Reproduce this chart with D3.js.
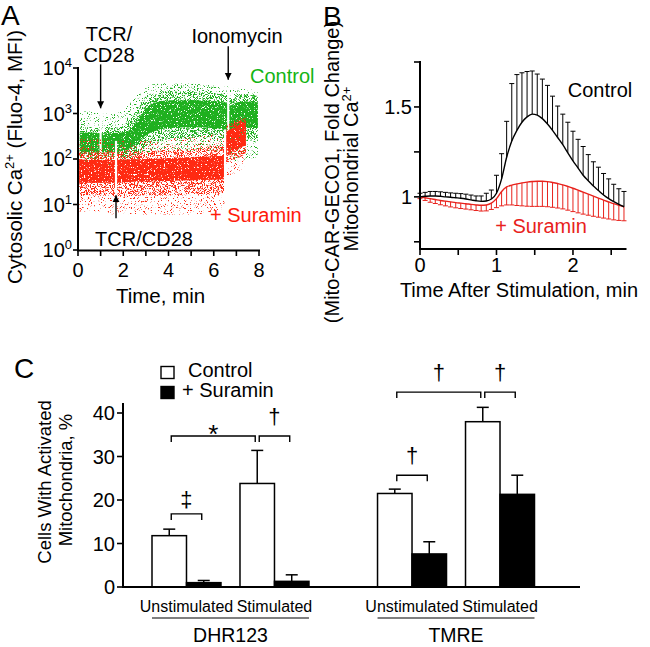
<!DOCTYPE html>
<html><head><meta charset="utf-8">
<script src="https://cdn.jsdelivr.net/npm/d3@7/dist/d3.min.js"></script>
<style>
body{margin:0;background:#fff}
svg{display:block}
</style></head><body>
<svg id="fig" width="650" height="647"></svg>
<script>
// ================= DATA =================
// ---- Panel A : cytosolic Ca2+ kinetic dot plot (envelopes of the dot clouds, MFI) ----
const aTimeTicks = [0,1,2,3,4,5,6,7,8];
const aTimeLabels = [0,2,4,6,8];
const aDecades = [1,10,100,1000,10000];
const aDecadeExp = ["0","1","2","3","4"];

const ctrlTime    = [0.08,0.5,1.0,1.5,2.0,2.3,2.6,3.0,3.5,4.0,5.0,6.0,6.62,6.68,7.0,7.5,7.95];
const ctrlOuterLo = [70,70,70,75,80,90,100,120,140,150,150,150,140,90,90,100,110];
const ctrlMidLo   = [100,100,100,105,110,120,140,190,240,270,290,290,270,200,240,270,280];
const ctrlCoreLo  = [140,140,140,145,150,170,220,330,430,480,500,480,430,400,450,480,480];
const ctrlCoreHi  = [380,380,370,370,390,440,680,1250,1800,1950,1950,1850,1650,1500,1750,1850,1750];
const ctrlMidHi   = [500,500,480,480,550,750,1200,2100,2900,3100,3000,2800,2500,2200,2500,2600,2450];
const ctrlOuterHi = [1100,1100,1000,1000,1200,1700,2700,3800,4500,4600,4500,4100,3900,3400,3500,3400,3200];
const ctrlGaps    = [1.0, 6.64];

const surTime    = [0.05,0.5,1.0,1.6,2.0,3.0,4.0,5.0,6.0,6.45,6.55,7.0,7.42];
const surOuterLo = [7,7,7,6,6,6,6,6,7,8,40,50,70];
const surMidLo   = [16,16,16,15,15,16,16,17,17,18,80,100,130];
const surCoreLo  = [30,30,30,30,31,32,33,34,35,36,120,160,200];
const surCoreHi  = [100,95,95,95,98,100,104,110,115,120,380,520,700];
const surMidHi   = [150,140,140,140,150,150,160,170,190,200,450,650,800];
const surOuterHi = [300,280,270,250,250,250,280,300,350,400,500,750,900];
const surGaps    = [1.68, 6.5];

// ---- Panel B : mitochondrial Ca2+ (fold change), mean +/- SEM ----
const bTime = [0,0.067,0.133,0.2,0.267,0.333,0.4,0.467,0.533,0.6,0.667,0.733,0.8,0.867,0.933,1.0,1.067,1.133,1.2,1.267,1.333,1.4,1.467,1.533,1.6,1.667,1.733,1.8,1.867,1.933,2.0,2.067,2.133,2.2,2.267,2.333,2.4,2.467,2.533,2.6,2.667];
const bCtrlMean = [1.000,1.003,1.005,1.005,1.003,1.000,0.998,0.995,0.992,0.988,0.983,0.978,0.975,0.977,0.988,1.020,1.100,1.220,1.310,1.370,1.415,1.445,1.460,1.455,1.435,1.405,1.370,1.330,1.290,1.245,1.200,1.160,1.120,1.090,1.060,1.035,1.010,0.990,0.973,0.958,0.945];
const bCtrlSem  = [0.020,0.022,0.025,0.025,0.025,0.025,0.024,0.025,0.026,0.027,0.027,0.027,0.030,0.043,0.050,0.100,0.140,0.200,0.320,0.310,0.275,0.252,0.240,0.228,0.220,0.215,0.190,0.175,0.170,0.170,0.165,0.160,0.160,0.145,0.135,0.130,0.120,0.110,0.097,0.087,0.085];
const bSurMean  = [1.000,0.995,0.990,0.985,0.980,0.976,0.972,0.968,0.965,0.962,0.958,0.955,0.953,0.955,0.965,0.990,1.030,1.055,1.065,1.072,1.078,1.082,1.085,1.087,1.087,1.085,1.080,1.074,1.067,1.058,1.048,1.037,1.026,1.015,1.004,0.993,0.982,0.972,0.962,0.953,0.945];
const bSurSem   = [0.010,0.015,0.020,0.022,0.024,0.026,0.028,0.029,0.030,0.030,0.030,0.031,0.032,0.033,0.035,0.050,0.080,0.100,0.110,0.120,0.128,0.134,0.138,0.140,0.140,0.140,0.138,0.136,0.134,0.132,0.130,0.126,0.122,0.117,0.112,0.106,0.100,0.095,0.090,0.084,0.078];
const bXTicks = [0,0.5,1,1.5,2,2.5];
const bXLabels = [0,1,2];
const bYTicks = [0.75,1,1.25,1.5,1.75];
const bYLabels = [1,1.5];

// ---- Panel C : cells with activated mitochondria, % ----
const assays = ["DHR123","TMRE"];
const conditions = ["Unstimulated","Stimulated"];
const treatments = ["Control","+ Suramin"];
const cControlMean = {DHR123:[11.8,23.8], TMRE:[21.5,38.0]};
const cControlSem  = {DHR123:[1.5,7.6],  TMRE:[1.0,3.3]};
const cSuraminMean = {DHR123:[1.0,1.3],  TMRE:[7.6,21.3]};
const cSuraminSem  = {DHR123:[0.5,1.5],  TMRE:[2.8,4.4]};
const cYTicks = [0,10,20,30,40];
const cSig = [
  {assay:"DHR123", a:["Unstimulated","Control"], b:["Unstimulated","+ Suramin"], y:16.8, label:"‡"},
  {assay:"DHR123", a:["Unstimulated","Control"], b:["Stimulated","Control"],    y:34.7, label:"*"},
  {assay:"DHR123", a:["Stimulated","Control"],   b:["Stimulated","+ Suramin"],   y:34.7, label:"†"},
  {assay:"TMRE",   a:["Unstimulated","Control"], b:["Unstimulated","+ Suramin"], y:25.7, label:"†"},
  {assay:"TMRE",   a:["Unstimulated","Control"], b:["Stimulated","Control"],     y:44.8, label:"†"},
  {assay:"TMRE",   a:["Stimulated","Control"],   b:["Stimulated","+ Suramin"],   y:44.8, label:"†"}
];

// ================= DRAWING =================
const FONT = '"Liberation Sans", Arial, Helvetica, sans-serif';
const GREEN = "#1fb01f", RED = "#ff2a12", BRED = "#e8221c";
const svg = d3.select("#fig").attr("font-family", FONT);
const defs = svg.append("defs");

function supText(g, x, y, base, sup, tail, size, anchor){
  const t = g.append("text").attr("x",x).attr("y",y).attr("font-size",size).attr("text-anchor",anchor||"start");
  t.append("tspan").text(base);
  t.append("tspan").attr("font-size",size*0.65).attr("dy",-size*0.4).text(sup);
  if (tail) t.append("tspan").attr("dy",size*0.4).text(tail);
  return t;
}

// panel letters
svg.append("text").attr("x",1).attr("y",25).attr("font-size",28).text("A");
svg.append("text").attr("x",323).attr("y",26).attr("font-size",28).text("B");
svg.append("text").attr("x",14).attr("y",378).attr("font-size",28).text("C");

// ---------- Panel A ----------
const ax = d3.scaleLinear().domain([0,8]).range([78,259]);
const ay = d3.scaleLog().domain([1,10000]).range([250,68]);
const gA = svg.append("g");

function speckle(id, seed, thr){
  const k = 14;
  const f = defs.append("filter").attr("id",id).attr("x",0).attr("y",0).attr("width",1).attr("height",1)
    .attr("color-interpolation-filters","sRGB");
  f.append("feTurbulence").attr("type","fractalNoise").attr("baseFrequency",1.3).attr("numOctaves",1)
    .attr("seed",seed).attr("result","n");
  f.append("feColorMatrix").attr("in","n").attr("type","matrix")
    .attr("values",`0 0 0 0 0  0 0 0 0 0  0 0 0 0 0  ${k} 0 0 0 ${-k*thr}`).attr("result","m");
  f.append("feComposite").attr("in","SourceGraphic").attr("in2","m").attr("operator","in");
}
const densities = {outer:0.60, mid:0.49, core:0.31};
const seriesA = [
  {name:"ctrl", color:GREEN, seed:5, t:ctrlTime, outer:[ctrlOuterLo,ctrlOuterHi], mid:[ctrlMidLo,ctrlMidHi], core:[ctrlCoreLo,ctrlCoreHi], gaps:ctrlGaps},
  {name:"sur",  color:RED,   seed:19, t:surTime, outer:[surOuterLo,surOuterHi], mid:[surMidLo,surMidHi], core:[surCoreLo,surCoreHi], gaps:surGaps}
];
defs.append("clipPath").attr("id","clipA").append("rect").attr("x",79).attr("y",60).attr("width",182).attr("height",189);
const plotA = gA.append("g").attr("clip-path","url(#clipA)");
function interp(ts, vs, t){
  const i = Math.max(1, Math.min(ts.length-1, d3.bisectLeft(ts, t)));
  const f = (t-ts[i-1])/(ts[i]-ts[i-1]);
  return Math.exp(Math.log(vs[i-1])*(1-f)+Math.log(vs[i])*f);
}
seriesA.forEach(s=>{
  ["outer","mid","core"].forEach(layer=>{
    const id = `sp-${s.name}-${layer}`;
    speckle(id, s.seed, densities[layer]);
    const [lo,hi] = s[layer];
    const area = d3.area().x((d,i)=>ax(s.t[i])).y0((d,i)=>ay(lo[i])).y1((d,i)=>ay(hi[i])).curve(d3.curveMonotoneX);
    plotA.append("path").attr("d", area(s.t)).attr("fill", s.color).attr("filter",`url(#${id})`);
  });
  s.gaps.forEach(gt=>{
    plotA.append("line").attr("x1",ax(gt)).attr("x2",ax(gt))
      .attr("y1",ay(interp(s.t, s.outer[1], gt))).attr("y2",ay(interp(s.t, s.outer[0], gt)))
      .attr("stroke","#fff").attr("stroke-width",2.2);
  });
});
// axes A
gA.append("line").attr("x1",78).attr("x2",78).attr("y1",67).attr("y2",251).attr("stroke","#000").attr("stroke-width",2);
gA.append("line").attr("x1",77).attr("x2",260).attr("y1",250.5).attr("y2",250.5).attr("stroke","#000").attr("stroke-width",2);
aDecades.forEach((v,i)=>{
  gA.append("line").attr("x1",73).attr("x2",78).attr("y1",ay(v)).attr("y2",ay(v)).attr("stroke","#000").attr("stroke-width",1.6);
  supText(gA, 72, ay(v)+7, "10", aDecadeExp[i], null, 20, "end");
});
aTimeTicks.forEach(v=>{
  gA.append("line").attr("x1",ax(v)).attr("x2",ax(v)).attr("y1",250).attr("y2",256).attr("stroke","#000").attr("stroke-width",1.6);
});
aTimeLabels.forEach(v=>{
  gA.append("text").attr("x",ax(v)).attr("y",277).attr("font-size",20).attr("text-anchor","middle").text(v);
});
gA.append("text").attr("x",ax(3.65)).attr("y",303).attr("font-size",20.5).attr("text-anchor","middle").text("Time, min");
{
  const t = gA.append("text").attr("transform","translate(22,157) rotate(-90)").attr("font-size",20.5).attr("text-anchor","middle");
  t.append("tspan").text("Cytosolic Ca");
  t.append("tspan").attr("font-size",13).attr("dy",-8).text("2+");
  t.append("tspan").attr("dy",8).text(" (Fluo-4, MFI)");
}
// arrows
defs.append("marker").attr("id","arr").attr("viewBox","0 0 10 10").attr("refX",10).attr("refY",5)
  .attr("markerUnits","userSpaceOnUse").attr("markerWidth",7).attr("markerHeight",9).attr("orient","auto")
  .append("path").attr("d","M0,0 L10,5 L0,10 z").attr("fill","#000");
const arrowsA = [
  {t:1.0,  from:12000, to:1300},
  {t:6.64, from:30000, to:5500},
  {t:1.68, from:5,     to:16}
];
arrowsA.forEach(a=>{
  gA.append("line").attr("x1",ax(a.t)).attr("x2",ax(a.t)).attr("y1",ay(a.from)).attr("y2",ay(a.to))
    .attr("stroke","#000").attr("stroke-width",1.4).attr("marker-end","url(#arr)");
});
gA.append("text").attr("x",109).attr("y",41).attr("font-size",20).attr("text-anchor","middle").text("TCR/");
gA.append("text").attr("x",109).attr("y",62).attr("font-size",20).attr("text-anchor","middle").text("CD28");
gA.append("text").attr("x",237).attr("y",43).attr("font-size",20).attr("text-anchor","middle").text("Ionomycin");
gA.append("text").attr("x",144).attr("y",246).attr("font-size",20).attr("text-anchor","middle").text("TCR/CD28");
gA.append("text").attr("x",250).attr("y",83).attr("font-size",20).attr("fill","#14b414").text("Control");
gA.append("text").attr("x",210).attr("y",222).attr("font-size",20).attr("fill","#ff1a0a").text("+ Suramin");

// ---------- Panel B ----------
const bx = d3.scaleLinear().domain([0,2.7]).range([420,626.5]);
const by = d3.scaleLinear().domain([0.71,1.75]).range([249,62]);
const gB = svg.append("g");
const capW = 5;
function errBars(mean, sem, dir, color){
  const g = gB.append("g").attr("stroke",color).attr("stroke-width",1).attr("fill","none");
  bTime.forEach((t,i)=>{
    const y0 = by(mean[i]), y1 = by(mean[i] + dir*sem[i]);
    g.append("line").attr("x1",bx(t)).attr("x2",bx(t)).attr("y1",y0).attr("y2",y1);
    g.append("line").attr("x1",bx(t)-capW/2).attr("x2",bx(t)+capW/2).attr("y1",y1).attr("y2",y1);
  });
}
const bLine = d3.line().x((d,i)=>bx(bTime[i])).curve(d3.curveMonotoneX);
errBars(bSurMean, bSurSem, -1, BRED);
gB.append("path").attr("d", bLine.y((d,i)=>by(bSurMean[i]))(bTime)).attr("fill","none").attr("stroke",BRED).attr("stroke-width",1.4);
errBars(bCtrlMean, bCtrlSem, 1, "#000");
gB.append("path").attr("d", bLine.y((d,i)=>by(bCtrlMean[i]))(bTime)).attr("fill","none").attr("stroke","#000").attr("stroke-width",1.4);
// axes B
gB.append("line").attr("x1",420).attr("x2",420).attr("y1",61).attr("y2",250).attr("stroke","#000").attr("stroke-width",2);
gB.append("line").attr("x1",419).attr("x2",bx(2.7)).attr("y1",249).attr("y2",249).attr("stroke","#000").attr("stroke-width",2);
bYTicks.forEach(v=>{
  gB.append("line").attr("x1",414).attr("x2",420).attr("y1",by(v)).attr("y2",by(v)).attr("stroke","#000").attr("stroke-width",1.6);
});
bYLabels.forEach(v=>{
  gB.append("text").attr("x",412).attr("y",by(v)+7).attr("font-size",20).attr("text-anchor","end").text(v);
});
bXTicks.forEach(v=>{
  gB.append("line").attr("x1",bx(v)).attr("x2",bx(v)).attr("y1",249).attr("y2",255).attr("stroke","#000").attr("stroke-width",1.6);
});
bXLabels.forEach(v=>{
  gB.append("text").attr("x",bx(v)).attr("y",272).attr("font-size",20).attr("text-anchor","middle").text(v);
});
gB.append("text").attr("x",519).attr("y",297).attr("font-size",20).attr("text-anchor","middle").text("Time After Stimulation, min");
gB.append("text").attr("transform","translate(339,172) rotate(-90)").attr("font-size",20).attr("text-anchor","middle").text("(Mito-CAR-GECO1, Fold Change)");
{
  const t = gB.append("text").attr("transform","translate(358,169) rotate(-90)").attr("font-size",20).attr("text-anchor","middle");
  t.append("tspan").text("Mitochondrial Ca");
  t.append("tspan").attr("font-size",13).attr("dy",-7).text("2+");
}
gB.append("text").attr("x",600).attr("y",97).attr("font-size",20).attr("text-anchor","middle").text("Control");
gB.append("text").attr("x",541).attr("y",233).attr("font-size",20).attr("text-anchor","middle").attr("fill",BRED).text("+ Suramin");

// ---------- Panel C ----------
const gC = svg.append("g");
const cy = d3.scaleLinear().domain([0,40]).range([587,413]);
const xOuter = d3.scaleBand().domain(assays).range([152,534.5]).paddingInner(0.304);
const xMid = d3.scaleBand().domain(conditions).range([0, xOuter.bandwidth()]).paddingInner(0.216);
const xIn = d3.scaleBand().domain(treatments).range([0, xMid.bandwidth()]);
const barX = (a,c,t)=> xOuter(a)+xMid(c)+xIn(t);
const barC = (a,c,t)=> barX(a,c,t)+xIn.bandwidth()/2;
const cBars = [];
assays.forEach(a=>conditions.forEach((c,ci)=>{
  cBars.push({a,c,t:"Control",  v:cControlMean[a][ci], e:cControlSem[a][ci], fill:"#fff"});
  cBars.push({a,c,t:"+ Suramin",v:cSuraminMean[a][ci], e:cSuraminSem[a][ci], fill:"#000"});
}));
cBars.forEach(d=>{
  const cx = barC(d.a,d.c,d.t);
  gC.append("line").attr("x1",cx).attr("x2",cx).attr("y1",cy(d.v)).attr("y2",cy(d.v+d.e)).attr("stroke","#000").attr("stroke-width",1.5);
  gC.append("line").attr("x1",cx-6).attr("x2",cx+6).attr("y1",cy(d.v+d.e)).attr("y2",cy(d.v+d.e)).attr("stroke","#000").attr("stroke-width",1.5);
  gC.append("rect").attr("x",barX(d.a,d.c,d.t)).attr("y",cy(d.v)).attr("width",xIn.bandwidth()).attr("height",cy(0)-cy(d.v))
    .attr("fill",d.fill).attr("stroke","#000").attr("stroke-width",1.5);
});
// axes C
gC.append("line").attr("x1",123).attr("x2",123).attr("y1",403).attr("y2",588).attr("stroke","#000").attr("stroke-width",2);
gC.append("line").attr("x1",122).attr("x2",580).attr("y1",587).attr("y2",587).attr("stroke","#000").attr("stroke-width",2.2);
cYTicks.forEach(v=>{
  gC.append("line").attr("x1",117).attr("x2",123).attr("y1",cy(v)).attr("y2",cy(v)).attr("stroke","#000").attr("stroke-width",1.6);
  gC.append("text").attr("x",115).attr("y",cy(v)+7).attr("font-size",20).attr("text-anchor","end").text(v);
});
assays.forEach(a=>{
  conditions.forEach(c=>{
    gC.append("text").attr("x",xOuter(a)+xMid(c)+xMid.bandwidth()/2).attr("y",612).attr("font-size",16)
      .attr("text-anchor","middle").text(c);
  });
  gC.append("line").attr("x1",xOuter(a)).attr("x2",xOuter(a)+xOuter.bandwidth()).attr("y1",618).attr("y2",618)
    .attr("stroke","#000").attr("stroke-width",1.2);
  gC.append("text").attr("x",xOuter(a)+xOuter.bandwidth()/2).attr("y",642).attr("font-size",19.5)
    .attr("text-anchor","middle").text(a);
});
// significance brackets
cSig.forEach(s=>{
  const x1 = barC(s.assay, s.a[0], s.a[1]) + 2, x2 = barC(s.assay, s.b[0], s.b[1]) - 2;
  const y = cy(s.y);
  gC.append("path").attr("d",`M${x1},${y+6}V${y}H${x2}V${y+6}`).attr("fill","none").attr("stroke","#000").attr("stroke-width",1.4);
  const dy = s.label==="*" ? 7 : (s.label==="‡" ? -7 : -12);
  gC.append("text").attr("x",(x1+x2)/2).attr("y",y+dy).attr("font-size", s.label==="*"?26:22).attr("text-anchor","middle").text(s.label);
});
// y title C
gC.append("text").attr("transform","translate(51,482) rotate(-90)").attr("font-size",18.5).attr("text-anchor","middle").text("Cells With Activated");
gC.append("text").attr("transform","translate(72,480) rotate(-90)").attr("font-size",18.5).attr("text-anchor","middle").text("Mitochondria, %");
// legend
gC.append("rect").attr("x",161).attr("y",366.5).attr("width",13).attr("height",12).attr("fill","#fff").attr("stroke","#000").attr("stroke-width",1.4);
gC.append("rect").attr("x",161).attr("y",386.5).attr("width",13).attr("height",12).attr("fill","#000").attr("stroke","#000").attr("stroke-width",1.4);
gC.append("text").attr("x",188).attr("y",377).attr("font-size",20).text("Control");
gC.append("text").attr("x",182).attr("y",397).attr("font-size",20).text("+ Suramin");
</script>
</body></html>
